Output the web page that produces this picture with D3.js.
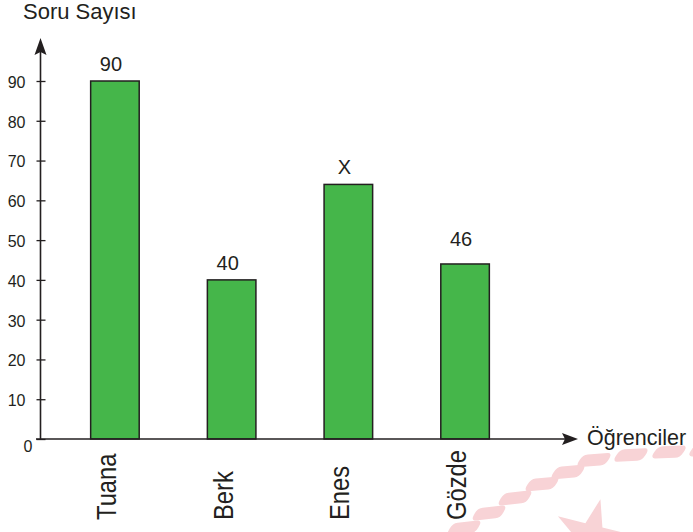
<!DOCTYPE html>
<html>
<head>
<meta charset="utf-8">
<script src="https://cdn.jsdelivr.net/npm/d3@7"></script>
<style>
  html, body { margin: 0; padding: 0; background: #ffffff; }
  svg { display: block; }
  text { font-family: "Liberation Sans", Arial, Helvetica, sans-serif; fill: #231f20; }
</style>
</head>
<body>
<div id="chart"></div>
<script>
// ---- data ----
const categories = ["Tuana", "Berk", "Enes", "Gözde"];
const values = [90, 40, 64, 44];
const barLabels = ["90", "40", "X", "46"];
const yTicks = [0, 10, 20, 30, 40, 50, 60, 70, 80, 90];
const yTitle = "Soru Sayısı";
const xTitle = "Öğrenciler";

// ---- layout ----
const W = 693, H = 532;
const ink = "#231f20";
const svg = d3.select("#chart").append("svg").attr("width", W).attr("height", H);

const x = d3.scaleBand().domain(categories).range([40, 540]).paddingInner(0.584).paddingOuter(0.434);
const y = d3.scaleLinear().domain([0, 90]).range([439, 81]);

// ---- faint watermark (background decoration) ----
const wm = svg.append("g").attr("fill", "#f8d3d6");
const dashCenters = [[464, 528, -6], [489, 513, -6], [515, 498, -6], [542, 484, -5], [568, 472, -5],
                     [594, 460, -4], [631, 455, -3], [669, 452, -2], [706, 450, -2]];
wm.selectAll("rect").data(dashCenters).join("rect")
  .attr("x", -15).attr("y", -6).attr("width", 30).attr("height", 12).attr("rx", 5)
  .attr("transform", d => `translate(${d[0]},${d[1]}) rotate(${d[2]}) skewX(-35)`);
const starC = [591, 537], R = 39, r = 14.9;
const starPts = d3.range(10).map(i => {
  const a = (-76 + i * 36) * Math.PI / 180;
  const rad = i % 2 === 0 ? R : r;
  return [starC[0] + rad * Math.cos(a), starC[1] + rad * Math.sin(a)];
});
wm.append("path").attr("d", d3.line()(starPts) + "Z");

// ---- bars ----
const data = categories.map((c, i) => ({ c, v: values[i], label: barLabels[i] }));
svg.append("g").selectAll("rect").data(data).join("rect")
  .attr("x", d => x(d.c))
  .attr("y", d => y(d.v))
  .attr("width", x.bandwidth())
  .attr("height", d => y(0) - y(d.v))
  .attr("fill", "#45b64a")
  .attr("stroke", ink)
  .attr("stroke-width", 1.5);

// ---- bar labels ----
svg.append("g").selectAll("text").data(data).join("text")
  .attr("x", d => x(d.c) + x.bandwidth() / 2 - 4)
  .attr("y", d => {
    const n = +d.label;
    const top = isNaN(n) ? d.v : Math.max(d.v, n);
    return y(top) - 10;
  })
  .attr("text-anchor", "middle")
  .attr("font-size", 20)
  .text(d => d.label);

// ---- y axis ----
const yAxis = d3.axisLeft(y).tickValues(yTicks).tickSize(4).tickSizeOuter(0).tickPadding(10);
const gy = svg.append("g").attr("transform", "translate(40.5,0)").call(yAxis);
gy.select(".domain").remove();
gy.selectAll(".tick line").attr("x1", 5).attr("stroke", ink).attr("stroke-width", 1.3);
gy.selectAll(".tick text")
  .attr("font-size", 16).attr("font-family", "Liberation Sans, Arial, sans-serif")
  .attr("fill", ink)
  .attr("x", d => d === 0 ? -8 : -15)
  .attr("dy", d => d === 0 ? "0.75em" : "0.4em");

// axis lines with arrows
svg.append("line").attr("x1", 40.5).attr("x2", 40.5).attr("y1", y(0)).attr("y2", 52)
  .attr("stroke", ink).attr("stroke-width", 1.6);
svg.append("path").attr("d", "M40.5,38 L34.5,55 L40.5,52 L46.5,55 Z").attr("fill", ink);

svg.append("line").attr("x1", 36).attr("x2", 566).attr("y1", y(0)).attr("y2", y(0))
  .attr("stroke", ink).attr("stroke-width", 1.6);
svg.append("path").attr("d", `M578,${y(0)} L562,${y(0) - 6} L565,${y(0)} L562,${y(0) + 6} Z`).attr("fill", ink);

// ---- titles ----
svg.append("text").attr("x", 23).attr("y", 19).attr("font-size", 22).text(yTitle);
svg.append("text").attr("x", 587).attr("y", 445).attr("font-size", 21.5).text(xTitle);

// ---- category labels (rotated) ----
svg.append("g").selectAll("text").data(categories).join("text")
  .attr("transform", d => `translate(${x(d) + x.bandwidth() / 2 + 1},520) rotate(-90) scale(0.88,1)`)
  .attr("text-anchor", "start")
  .attr("font-size", 27)
  .text(d => d);
</script>
</body>
</html>
